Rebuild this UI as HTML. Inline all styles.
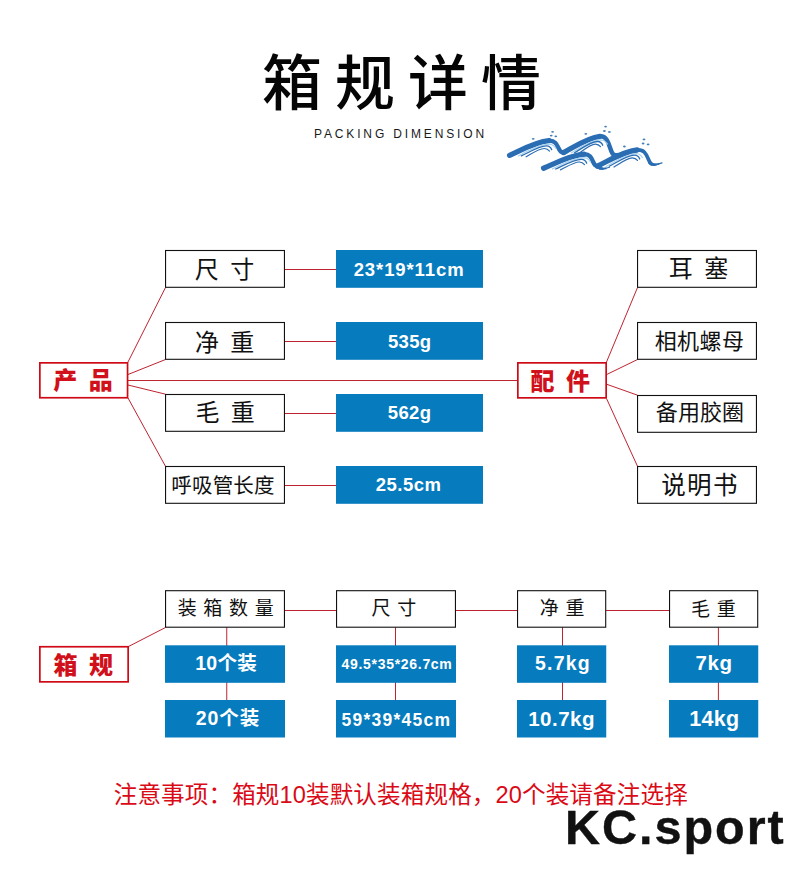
<!DOCTYPE html>
<html lang="zh-CN">
<head>
<meta charset="utf-8">
<title>箱规详情</title>
<style>
html,body{margin:0;padding:0;background:#fff;}
body{width:800px;height:872px;position:relative;overflow:hidden;font-family:"Liberation Sans","Noto Sans CJK SC",sans-serif;}
svg.bg{position:absolute;left:0;top:0;}
.t{position:absolute;text-align:center;white-space:nowrap;box-sizing:border-box;}
.title{position:absolute;left:8px;top:55px;width:800px;text-align:center;font-size:60px;font-weight:500;color:#050505;letter-spacing:13px;line-height:60px;white-space:nowrap;}
.sub{position:absolute;left:314px;top:128px;font-size:12px;letter-spacing:2.85px;color:#1a1a1a;white-space:nowrap;line-height:12px;}
.lb{font-size:24px;color:#111;font-weight:400;word-spacing:4.6px;}
.l3{font-size:20.5px;letter-spacing:0.2px;}
.r1,.r2{font-size:22px;letter-spacing:0.4px;}
.r2{letter-spacing:0.1px;}
.r3{font-size:24.5px;letter-spacing:1.4px;}
.lb2{font-size:19px;color:#111;font-weight:400;word-spacing:1.4px;}
.val{color:#fff;font-weight:700;font-size:18.5px;}
.v0{letter-spacing:0.9px;}
.v1,.v2{letter-spacing:0.35px;}
.v3{letter-spacing:0.5px;}
.c0,.d0{font-size:19.5px;letter-spacing:0.3px;}
.d0{letter-spacing:0.9px;}
.c1{font-size:14px;letter-spacing:0.7px;}
.d1{font-size:17.5px;letter-spacing:1.25px;}
.c2{font-size:19.5px;letter-spacing:1.2px;}
.d2{font-size:20.5px;letter-spacing:0.5px;}
.c3{font-size:20.5px;letter-spacing:0.7px;}
.d3{font-size:21.5px;letter-spacing:0.3px;}
.rd{color:#d0101a;font-weight:900;font-size:24px;word-spacing:4.8px;}
.note{position:absolute;left:113.7px;top:780.5px;font-size:23.6px;line-height:28px;color:#da0a16;font-weight:400;white-space:nowrap;letter-spacing:0.1px;}
.brand{position:absolute;left:565px;top:797px;font-size:48.5px;line-height:60px;font-weight:700;color:#111;white-space:nowrap;letter-spacing:2px;-webkit-text-stroke:0.4px #111;}

</style>
</head>
<body>
<svg class="bg" width="800" height="872" viewBox="0 0 800 872">
<line x1="128" y1="362" x2="165.5" y2="287.5" stroke="#bd2430" stroke-width="1"/>
<line x1="128" y1="374.5" x2="165.5" y2="359.5" stroke="#bd2430" stroke-width="1"/>
<line x1="128" y1="380.5" x2="517" y2="380.5" stroke="#bd2430" stroke-width="1"/>
<line x1="128" y1="385" x2="165.5" y2="394.2" stroke="#bd2430" stroke-width="1"/>
<line x1="128" y1="398" x2="165.5" y2="466.3" stroke="#bd2430" stroke-width="1"/>
<line x1="285" y1="269.5" x2="336" y2="269.5" stroke="#bd2430" stroke-width="1"/>
<line x1="285" y1="341.5" x2="336" y2="341.5" stroke="#bd2430" stroke-width="1"/>
<line x1="285" y1="413.5" x2="336" y2="413.5" stroke="#bd2430" stroke-width="1"/>
<line x1="285" y1="485.5" x2="336" y2="485.5" stroke="#bd2430" stroke-width="1"/>
<line x1="606.5" y1="362" x2="637.5" y2="287.5" stroke="#bd2430" stroke-width="1"/>
<line x1="606.5" y1="374.6" x2="637.5" y2="359.5" stroke="#bd2430" stroke-width="1"/>
<line x1="606.5" y1="384.2" x2="637.5" y2="395.2" stroke="#bd2430" stroke-width="1"/>
<line x1="606.5" y1="398.5" x2="637.5" y2="466.3" stroke="#bd2430" stroke-width="1"/>
<rect x="165.55" y="250.50" width="118.90" height="36.80" fill="#fff" stroke="#111" stroke-width="1.1"/>
<rect x="336" y="250" width="147" height="37.8" fill="#067bbd"/>
<rect x="637.55" y="250.50" width="118.90" height="36.80" fill="#fff" stroke="#111" stroke-width="1.1"/>
<rect x="165.55" y="322.50" width="118.90" height="36.80" fill="#fff" stroke="#111" stroke-width="1.1"/>
<rect x="336" y="322" width="147" height="37.8" fill="#067bbd"/>
<rect x="637.55" y="322.50" width="118.90" height="36.80" fill="#fff" stroke="#111" stroke-width="1.1"/>
<rect x="165.55" y="394.50" width="118.90" height="36.80" fill="#fff" stroke="#111" stroke-width="1.1"/>
<rect x="336" y="394" width="147" height="37.8" fill="#067bbd"/>
<rect x="637.55" y="395.50" width="118.90" height="36.80" fill="#fff" stroke="#111" stroke-width="1.1"/>
<rect x="165.55" y="466.50" width="118.90" height="36.80" fill="#fff" stroke="#111" stroke-width="1.1"/>
<rect x="336" y="466" width="147" height="37.8" fill="#067bbd"/>
<rect x="637.55" y="466.50" width="118.90" height="36.80" fill="#fff" stroke="#111" stroke-width="1.1"/>
<rect x="39.85" y="362.85" width="87.70" height="34.90" fill="#fff" stroke="#cf0a16" stroke-width="1.7"/>
<rect x="517.85" y="362.85" width="88.30" height="35.00" fill="#fff" stroke="#cf0a16" stroke-width="1.7"/>
<line x1="128.5" y1="646.5" x2="165.5" y2="627.5" stroke="#bd2430" stroke-width="1"/>
<line x1="285" y1="610.5" x2="336" y2="610.5" stroke="#bd2430" stroke-width="1"/>
<line x1="456" y1="610.5" x2="517" y2="610.5" stroke="#bd2430" stroke-width="1"/>
<line x1="606" y1="610.5" x2="669.5" y2="610.5" stroke="#bd2430" stroke-width="1"/>
<line x1="226.75" y1="627" x2="226.75" y2="701" stroke="#bd2430" stroke-width="1"/>
<rect x="165.55" y="590.70" width="118.90" height="36.50" fill="#fff" stroke="#111" stroke-width="1.1"/>
<rect x="165" y="645.3" width="120" height="37.5" fill="#067bbd"/>
<rect x="165" y="700" width="120" height="37.5" fill="#067bbd"/>
<line x1="395.5" y1="627" x2="395.5" y2="701" stroke="#bd2430" stroke-width="1"/>
<rect x="336.55" y="590.70" width="118.90" height="36.50" fill="#fff" stroke="#111" stroke-width="1.1"/>
<rect x="336" y="645.3" width="120" height="37.5" fill="#067bbd"/>
<rect x="336" y="700" width="120" height="37.5" fill="#067bbd"/>
<line x1="562.5" y1="627" x2="562.5" y2="701" stroke="#bd2430" stroke-width="1"/>
<rect x="517.55" y="590.70" width="88.15" height="36.50" fill="#fff" stroke="#111" stroke-width="1.1"/>
<rect x="517" y="645.3" width="89.25" height="37.5" fill="#067bbd"/>
<rect x="517" y="700" width="89.25" height="37.5" fill="#067bbd"/>
<line x1="718.4" y1="627" x2="718.4" y2="701" stroke="#bd2430" stroke-width="1"/>
<rect x="669.55" y="590.70" width="88.15" height="36.50" fill="#fff" stroke="#111" stroke-width="1.1"/>
<rect x="669" y="645.3" width="89.25" height="37.5" fill="#067bbd"/>
<rect x="669" y="700" width="89.25" height="37.5" fill="#067bbd"/>
<rect x="39.85" y="646.75" width="88.30" height="35.10" fill="#fff" stroke="#cf0a16" stroke-width="1.7"/>
<g fill="none" stroke-linecap="round" stroke-linejoin="round">
<path d="M509.6 155.3 C521.4 150.0 535.6 141.9 549.0 140.7" stroke="#2b6db3" stroke-width="5.3"/>
<path d="M549.0 140.7 C560.5 140.1 556.4 155.2 565.5 152.0" stroke="#2b6db3" stroke-width="4.4"/>
<path d="M518.3 155.9 C526.1 151.5 537.2 145.7 548.0 144.2 C553.1 144.2 554.4 146.2 555.9 148.4" stroke="#a9d3ee" stroke-width="1.2"/>
<path d="M521.4 155.9 C531.5 150.9 540.2 145.7 546.5 145.9 C549.7 146.0 551.1 147.7 551.7 149.7" stroke="#2b6db3" stroke-width="1.3"/>
<path d="M526.1 156.8 C533.4 152.6 539.8 148.3 544.3 148.5 C547.5 148.6 548.9 150.3 549.5 151.1" stroke="#2b6db3" stroke-width="1.2"/>
<path d="M563.5 152.6 C574.5 146.7 587.6 137.6 600.0 136.3" stroke="#2b6db3" stroke-width="5.3"/>
<path d="M600.0 136.3 C612.2 135.7 607.9 158.4 617.5 155.0" stroke="#2b6db3" stroke-width="4.4"/>
<path d="M571.5 152.8 C578.8 147.9 589.0 141.4 599.0 139.8 C604.4 139.8 605.8 141.8 607.4 144.0" stroke="#a9d3ee" stroke-width="1.2"/>
<path d="M574.5 152.7 C583.7 147.1 591.7 141.3 597.5 141.5 C600.7 141.6 602.1 143.3 602.7 145.3" stroke="#2b6db3" stroke-width="1.3"/>
<path d="M578.8 153.4 C585.4 148.7 591.2 143.9 595.3 144.1 C598.5 144.2 599.9 145.9 600.5 146.7" stroke="#2b6db3" stroke-width="1.2"/>
<path d="M543.6 168.2 C555.7 163.2 570.3 155.3 584.0 154.2" stroke="#2b6db3" stroke-width="5.3"/>
<path d="M584.0 154.2 C594.9 153.6 591.0 168.6 599.5 165.6" stroke="#2b6db3" stroke-width="4.4"/>
<path d="M552.5 168.9 C560.6 164.7 571.9 159.1 583.0 157.7 C587.9 157.7 589.1 159.7 590.5 161.9" stroke="#a9d3ee" stroke-width="1.2"/>
<path d="M555.7 169.0 C566.0 164.2 575.1 159.2 581.5 159.4 C584.7 159.5 586.1 161.2 586.7 163.2" stroke="#2b6db3" stroke-width="1.3"/>
<path d="M560.6 169.9 C568.1 166.0 574.6 161.8 579.3 162.0 C582.5 162.1 583.9 163.8 584.5 164.6" stroke="#2b6db3" stroke-width="1.2"/>
<path d="M597.4 166.2 C609.3 160.4 623.5 151.3 637.0 150.0" stroke="#2b6db3" stroke-width="5.3"/>
<path d="M637.0 150.0 C646.1 149.4 646.6 156.5 650.0 162.6" stroke="#2b6db3" stroke-width="3.7"/>
<path d="M606.1 166.4 C614.0 161.6 625.1 155.1 636.0 153.5 C640.2 153.5 641.3 155.5 642.5 157.7" stroke="#a9d3ee" stroke-width="1.2"/>
<path d="M609.3 166.3 C619.4 160.8 628.2 155.0 634.5 155.2 C637.7 155.3 639.1 157.0 639.7 159.0" stroke="#2b6db3" stroke-width="1.3"/>
<path d="M614.0 167.0 C621.3 162.4 627.7 157.6 632.3 157.8 C635.5 157.9 636.9 159.6 637.5 160.4" stroke="#2b6db3" stroke-width="1.2"/>
<path d="M650.0 162.6 C651.8 165.6 656.0 165.0 662.0 162.9" stroke="#2b6db3" stroke-width="1.2"/>
<path d="M650.0 162.6 C651.4 165.0 654.4 165.1 658.6 164.0" stroke="#2b6db3" stroke-width="1.8"/>
<path d="M650.0 162.6 C651.1 164.4 653.0 164.9 655.7 164.6" stroke="#2b6db3" stroke-width="2.4"/>
<path d="M650.0 162.6 C650.7 163.8 651.8 164.4 653.3 164.6" stroke="#2b6db3" stroke-width="3.0"/>
<path d="M650.0 162.6 C650.4 163.2 650.8 163.7 651.4 164.0" stroke="#2b6db3" stroke-width="3.5"/>
<path d="M597.6 166.0 C600.0 169.8 604.5 169.0 609.5 167.2" stroke="#2b6db3" stroke-width="1.1"/>
<path d="M597.6 166.0 C599.4 168.9 602.4 169.1 605.9 168.3" stroke="#2b6db3" stroke-width="1.7"/>
<path d="M597.6 166.0 C598.8 167.9 600.5 168.7 602.6 168.7" stroke="#2b6db3" stroke-width="2.4"/>
<path d="M597.6 166.0 C598.2 166.9 598.9 167.6 599.8 168.0" stroke="#2b6db3" stroke-width="3.2"/>
</g>
<g fill="#4680ba">
<ellipse cx="533.2" cy="138.8" rx="1.4" ry="0.9"/>
<ellipse cx="552.6" cy="131.8" rx="1.4" ry="0.9"/>
<ellipse cx="551.2" cy="135.6" rx="1.4" ry="0.9"/>
<ellipse cx="555.8" cy="136.3" rx="1.4" ry="0.9"/>
<ellipse cx="585.8" cy="133.8" rx="1.4" ry="0.9"/>
<ellipse cx="605.6" cy="126.6" rx="1.4" ry="0.9"/>
<ellipse cx="604.4" cy="131" rx="1.4" ry="0.9"/>
<ellipse cx="609.4" cy="131.9" rx="1.4" ry="0.9"/>
<ellipse cx="624.4" cy="146.5" rx="1.4" ry="0.9"/>
<ellipse cx="644" cy="139.4" rx="1.4" ry="0.9"/>
<ellipse cx="643.1" cy="143.5" rx="1.4" ry="0.9"/>
<ellipse cx="648.1" cy="144.4" rx="1.4" ry="0.9"/>
</g>

</svg>
<div class="title">箱规详情</div>
<div class="sub">PACKING DIMENSION</div>
<div class="t lb l0" style="left:164.50px;top:251.08px;width:120px;height:37.8px;line-height:37.8px;">尺 寸</div>
<div class="t val v0" style="left:335.60px;top:250.60px;width:147px;height:37.8px;line-height:37.8px;">23*19*11cm</div>
<div class="t lb r0" style="left:638.50px;top:250.40px;width:120px;height:37.8px;line-height:37.8px;">耳 塞</div>
<div class="t lb l1" style="left:164.62px;top:323.60px;width:120px;height:37.8px;line-height:37.8px;">净 重</div>
<div class="t val v1" style="left:336.20px;top:323.00px;width:147px;height:37.8px;line-height:37.8px;">535g</div>
<div class="t lb r1" style="left:639.50px;top:322.80px;width:120px;height:37.8px;line-height:37.8px;">相机螺母</div>
<div class="t lb l2" style="left:165.02px;top:394.08px;width:120px;height:37.8px;line-height:37.8px;">毛 重</div>
<div class="t val v2" style="left:336.10px;top:394.20px;width:147px;height:37.8px;line-height:37.8px;">562g</div>
<div class="t lb r2" style="left:640.00px;top:394.20px;width:120px;height:37.8px;line-height:37.8px;">备用胶圈</div>
<div class="t lb l3" style="left:163.00px;top:467.08px;width:120px;height:37.8px;line-height:37.8px;">呼吸管长度</div>
<div class="t val v3" style="left:335.10px;top:466.00px;width:147px;height:37.8px;line-height:37.8px;">25.5cm</div>
<div class="t lb r3" style="left:640.00px;top:466.52px;width:120px;height:37.8px;line-height:37.8px;">说明书</div>
<div class="t rd p0" style="left:38.32px;top:363.20px;width:89.4px;height:36.6px;line-height:36.6px;">产 品</div>
<div class="t rd p1" style="left:515.20px;top:363.52px;width:90px;height:36.7px;line-height:36.7px;">配 件</div>
<div class="t lb2 h0" style="left:165.70px;top:589.60px;width:120px;height:37.5px;line-height:37.5px;">装 箱 数 量</div>
<div class="t val b1 c0" style="left:166.10px;top:645.30px;width:120px;height:37.5px;line-height:37.5px;">10个装</div>
<div class="t val b2 d0" style="left:168.02px;top:700.00px;width:120px;height:37.5px;line-height:37.5px;">20个装</div>
<div class="t lb2 h1" style="left:333.92px;top:590.40px;width:120px;height:37.5px;line-height:37.5px;">尺 寸</div>
<div class="t val b1 c1" style="left:337.00px;top:645.82px;width:120px;height:37.5px;line-height:37.5px;">49.5*35*26.7cm</div>
<div class="t val b2 d1" style="left:336.48px;top:702.00px;width:120px;height:37.5px;line-height:37.5px;">59*39*45cm</div>
<div class="t lb2 h2" style="left:517.52px;top:590.40px;width:89.25px;height:37.5px;line-height:37.5px;">净 重</div>
<div class="t val b1 c2" style="left:518.40px;top:644.85px;width:89.25px;height:37.5px;line-height:37.5px;">5.7kg</div>
<div class="t val b2 d2" style="left:517.00px;top:699.70px;width:89.25px;height:37.5px;line-height:37.5px;">10.7kg</div>
<div class="t lb2 h3" style="left:668.68px;top:591.00px;width:89.25px;height:37.5px;line-height:37.5px;">毛 重</div>
<div class="t val b1 c3" style="left:669.50px;top:644.25px;width:89.25px;height:37.5px;line-height:37.5px;">7kg</div>
<div class="t val b2 d3" style="left:669.80px;top:701.05px;width:89.25px;height:37.5px;line-height:37.5px;">14kg</div>
<div class="t rd p2" style="left:38.18px;top:647.58px;width:90px;height:36.8px;line-height:36.8px;">箱 规</div>
<div class="note">注意事项：箱规10装默认装箱规格，20个装请备注选择</div>
<div class="brand">KC.sport</div>
</body>
</html>
